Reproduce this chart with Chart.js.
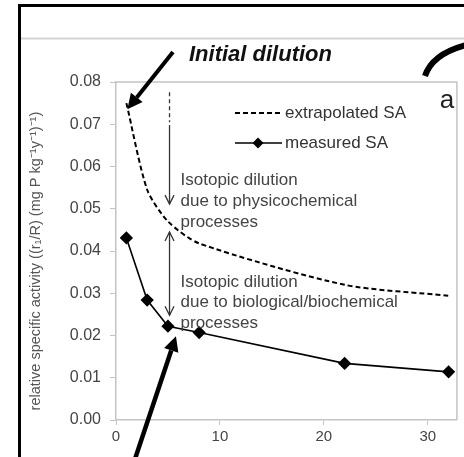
<!DOCTYPE html>
<html>
<head>
<meta charset="utf-8">
<script src="https://cdn.jsdelivr.net/npm/chart.js@4.4.0/dist/chart.umd.min.js"></script>
<style>
html,body{margin:0;padding:0;background:#fff;}
#wrap{width:464px;height:457px;position:relative;}
</style>
</head>
<body>
<div id="wrap"><canvas id="c" width="464" height="457"></canvas></div>
<script>
// ---- data ----
const days = [1, 3, 5, 8, 22, 32];
const extrapolatedSA = [0.075, 0.0545, 0.047, 0.0418, 0.032, 0.0294];
const measuredSA = [0.0431, 0.0284, 0.0222, 0.0207, 0.0134, 0.0114];
const xTicks = [0, 10, 20, 30];
const yTicks = [0, 0.01, 0.02, 0.03, 0.04, 0.05, 0.06, 0.07, 0.08];
const seriesLabels = ['extrapolated SA', 'measured SA'];
const yTitle = 'relative specific activity ((r\u2081/R) (mg P kg\u207B\u00B9y\u207B\u00B9)\u207B\u00B9)     ';
const topNote = 'Initial dilution';
const noteA = ['Isotopic dilution', 'due to physicochemical', 'processes'];
const noteB = ['Isotopic dilution', 'due to biological/biochemical', 'processes'];
const panelLabel = 'a';

const FONT = '"Liberation Sans", Arial, sans-serif';

function arrowFilled(ctx, x1, y1, x2, y2, w, hl, hw) {
  const a = Math.atan2(y2 - y1, x2 - x1);
  const bx = x2 - hl * Math.cos(a), by = y2 - hl * Math.sin(a);
  ctx.save();
  ctx.strokeStyle = '#000'; ctx.fillStyle = '#000'; ctx.lineWidth = w; ctx.lineCap = 'butt';
  ctx.beginPath(); ctx.moveTo(x1, y1); ctx.lineTo(bx, by); ctx.stroke();
  ctx.beginPath();
  ctx.moveTo(x2, y2);
  ctx.lineTo(bx + hw * Math.sin(a), by - hw * Math.cos(a));
  ctx.lineTo(bx - hw * Math.sin(a), by + hw * Math.cos(a));
  ctx.closePath(); ctx.fill();
  ctx.restore();
}
function openHead(ctx, x, y, dir) {
  ctx.beginPath();
  ctx.moveTo(x - 4.5, y - dir * 9);
  ctx.lineTo(x, y);
  ctx.lineTo(x + 4.5, y - dir * 9);
  ctx.stroke();
}

const annot = {
  id: 'annot',
  afterDraw(chart) {
    const ctx = chart.ctx, xs = chart.scales.x, ys = chart.scales.y, ca = chart.chartArea;
    ctx.save();
    // outer frame
    ctx.strokeStyle = '#000'; ctx.lineWidth = 3;
    ctx.beginPath(); ctx.moveTo(19.5, 470); ctx.lineTo(19.5, 5.5); ctx.lineTo(470, 5.5); ctx.stroke();
    ctx.strokeStyle = '#d4d4d4'; ctx.lineWidth = 2;
    ctx.beginPath(); ctx.moveTo(21, 38.5); ctx.lineTo(464, 38.5); ctx.stroke();
    // plot frame top/right
    ctx.strokeStyle = '#c4c4c4'; ctx.lineWidth = 1.5;
    ctx.beginPath(); ctx.moveTo(ca.left, ca.top); ctx.lineTo(ca.right, ca.top); ctx.lineTo(ca.right, ca.bottom); ctx.stroke();

    // initial dilution text + arrow
    ctx.fillStyle = '#111';
    ctx.font = 'italic bold 22px ' + FONT;
    ctx.textAlign = 'left'; ctx.textBaseline = 'middle';
    ctx.fillText(topNote, 189, 55);
    arrowFilled(ctx, 173, 52, xs.getPixelForValue(days[0]) + 1, ys.getPixelForValue(extrapolatedSA[0]) + 6, 4, 15, 7.5);
    // bottom arrow to measured point
    arrowFilled(ctx, 134, 462, xs.getPixelForValue(days[2]) + 8, ys.getPixelForValue(measuredSA[2]) + 10, 4.5, 15, 7.5);
    // curved thick arrow (top right)
    ctx.strokeStyle = '#000'; ctx.lineWidth = 6; ctx.lineCap = 'butt';
    ctx.beginPath(); ctx.moveTo(425, 76); ctx.quadraticCurveTo(432, 54, 466, 45); ctx.stroke();

    // panel label
    ctx.fillStyle = '#222';
    ctx.font = '26px ' + FONT;
    ctx.textAlign = 'center';
    ctx.fillText(panelLabel, 447, 101);

    // vertical arrows
    const vx = xs.getPixelForValue(5.15);
    ctx.strokeStyle = '#333'; ctx.lineWidth = 1.3;
    ctx.setLineDash([4, 3]);
    ctx.beginPath(); ctx.moveTo(vx, ys.getPixelForValue(0.0776)); ctx.lineTo(vx, ys.getPixelForValue(0.0705)); ctx.stroke();
    ctx.setLineDash([]);
    const t1 = ys.getPixelForValue(0.0511);
    ctx.beginPath(); ctx.moveTo(vx, ys.getPixelForValue(0.0698)); ctx.lineTo(vx, t1); ctx.stroke();
    openHead(ctx, vx, t1, 1);
    const t2a = ys.getPixelForValue(0.0445), t2b = ys.getPixelForValue(0.0248);
    ctx.beginPath(); ctx.moveTo(vx, t2a); ctx.lineTo(vx, t2b); ctx.stroke();
    openHead(ctx, vx, t2a, -1);
    openHead(ctx, vx, t2b, 1);

    // notes
    ctx.fillStyle = '#444';
    ctx.font = '17px ' + FONT;
    ctx.textAlign = 'left';
    const nx = vx + 11;
    noteA.forEach((s, i) => ctx.fillText(s, nx, 180 + i * 21));
    noteB.forEach((s, i) => ctx.fillText(s, nx, 282 + i * 20.5));

    // legend
    const ds = chart.data.datasets;
    ctx.font = '17px ' + FONT;
    const lx1 = 235, lx2 = 282;
    [113, 143].forEach((ly, i) => {
      const d = ds[i];
      ctx.strokeStyle = d.borderColor; ctx.lineWidth = d.borderWidth;
      ctx.setLineDash(d.borderDash || []);
      ctx.beginPath(); ctx.moveTo(lx1, ly); ctx.lineTo(lx2, ly); ctx.stroke();
      ctx.setLineDash([]);
      if (d.pointRadius > 0) {
        const r = d.pointRadius;
        ctx.fillStyle = '#000';
        ctx.beginPath(); ctx.moveTo(258, ly - r); ctx.lineTo(258 + r, ly); ctx.lineTo(258, ly + r); ctx.lineTo(258 - r, ly); ctx.closePath(); ctx.fill();
      }
      ctx.fillStyle = '#333';
      ctx.fillText(d.label, 285, ly);
    });
    ctx.restore();
  }
};

new Chart(document.getElementById('c'), {
  type: 'line',
  data: {
    datasets: [
      {
        label: seriesLabels[0],
        data: days.map((d, i) => ({ x: d, y: extrapolatedSA[i] })),
        borderColor: '#000', borderWidth: 2, borderDash: [5, 3],
        pointRadius: 0, tension: 0.25, fill: false
      },
      {
        label: seriesLabels[1],
        data: days.map((d, i) => ({ x: d, y: measuredSA[i] })),
        borderColor: '#000', borderWidth: 1.6,
        pointStyle: 'rectRot', pointRadius: 5.5, pointBackgroundColor: '#000', pointBorderColor: '#000',
        tension: 0, fill: false
      }
    ]
  },
  options: {
    responsive: false, animation: false, devicePixelRatio: 1,
    layout: { padding: { left: 20, top: 82, right: 2, bottom: 0 } },
    plugins: { legend: { display: false }, tooltip: { enabled: false }, title: { display: false } },
    scales: {
      x: {
        type: 'linear', min: 0, max: 32.8,
        afterBuildTicks: (s) => { s.ticks = xTicks.map(v => ({ value: v })); },
        afterFit: (s) => { s.height = 37; },
        ticks: { font: { family: FONT, size: 15 }, color: '#444', padding: 3, maxRotation: 0 },
        grid: { drawOnChartArea: false, drawTicks: true, tickLength: 5, color: '#c4c4c4' },
        border: { display: true, color: '#c4c4c4', width: 1.5 }
      },
      y: {
        min: 0, max: 0.08,
        afterBuildTicks: (s) => { s.ticks = yTicks.map(v => ({ value: v })); },
        afterFit: (s) => { s.width = 96; },
        ticks: { font: { family: FONT, size: 16 }, color: '#444', padding: 9, callback: (v) => Number(v).toFixed(2) },
        grid: { drawOnChartArea: false, drawTicks: true, tickLength: 6, color: '#c4c4c4' },
        border: { display: true, color: '#c4c4c4', width: 1.5 },
        title: { display: true, text: yTitle, font: { family: FONT, size: 14.5 }, color: '#555', padding: { top: 7, bottom: 0 } }
      }
    }
  },
  plugins: [annot]
});
</script>
</body>
</html>
